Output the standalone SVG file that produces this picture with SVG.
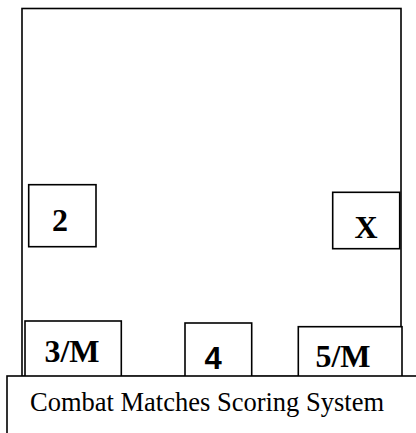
<svg xmlns="http://www.w3.org/2000/svg" width="416" height="433" viewBox="0 0 416 433">
<style>
.box{fill:#fff;stroke:#000;stroke-width:1.6}
.lbl{font-family:"Liberation Serif","Times New Roman",serif;font-weight:bold;font-size:32px;fill:#000;text-anchor:middle}
.sans{font-family:"Liberation Sans",Arial,sans-serif;font-weight:bold;font-size:31px;fill:#000;text-anchor:middle}
.title{font-family:"Liberation Serif","Times New Roman",serif;font-size:26.5px;fill:#000}
</style>
<rect width="416" height="433" fill="#fff"/>
<g id="frame"><rect class="box" x="22" y="8.5" width="379" height="368"/></g>
<g id="node-2"><rect class="box" x="28.7" y="184.7" width="67.3" height="62"/><text class="lbl" x="60" y="231">2</text></g>
<g id="node-x"><rect class="box" x="332.7" y="192.3" width="67" height="56.4"/><text class="lbl" x="366" y="238">X</text></g>
<g id="node-3m"><rect class="box" x="25" y="321" width="96.3" height="60"/><text class="lbl" x="72" y="362">3/M</text></g>
<g id="node-4"><rect class="box" x="185" y="323" width="66.7" height="58"/><text class="sans" x="213" y="369">4</text></g>
<g id="node-5m"><rect class="box" x="298.3" y="326.7" width="103.7" height="55"/><text class="lbl" x="343" y="367">5/M</text></g>
<g id="footer"><rect class="box" x="7" y="376" width="420" height="70"/><text class="title" x="30" y="411">Combat Matches Scoring System</text></g>
</svg>
